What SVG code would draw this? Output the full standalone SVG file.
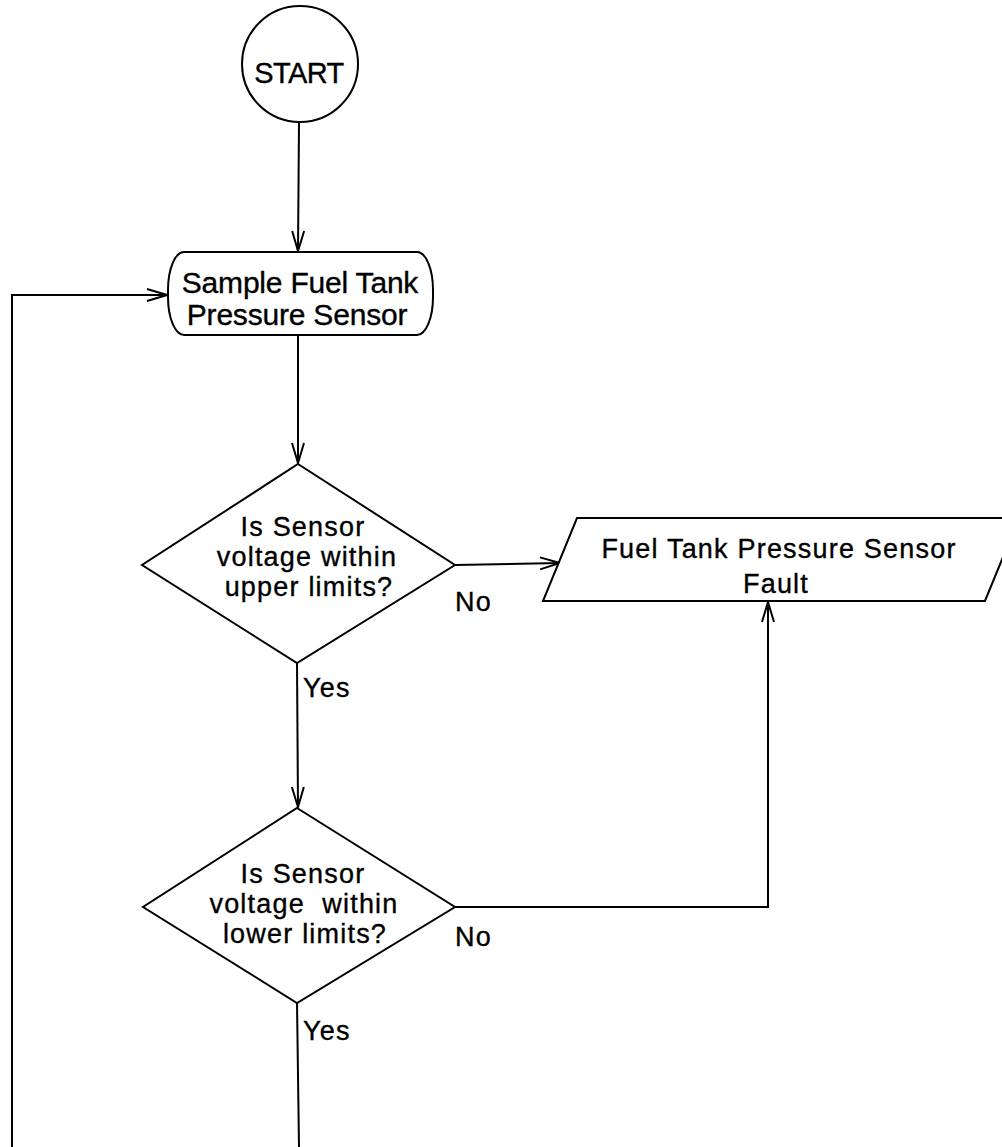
<svg xmlns="http://www.w3.org/2000/svg" width="1002" height="1147" viewBox="0 0 1002 1147">
<style>
.s{fill:#fff;stroke:#000;stroke-width:2}
.c{fill:none;stroke:#000;stroke-width:2}
text{font-family:"Liberation Sans",Arial,sans-serif;font-size:27px;letter-spacing:1.2px;fill:#000;stroke:#000;stroke-width:0.35px}
.m{text-anchor:middle}
.b{font-size:30px;letter-spacing:-0.2px}
</style>
<defs>
<marker id="a" markerUnits="userSpaceOnUse" markerWidth="24" markerHeight="18" refX="21" refY="8" orient="auto">
<path d="M1,2 L21,8 L1,14" fill="none" stroke="#000" stroke-width="2"/>
</marker>
</defs>
<g id="connectors">
<path class="c" d="M299,123 L298,251" marker-end="url(#a)"/>
<path class="c" d="M298,336 L298,463" marker-end="url(#a)"/>
<path class="c" d="M455,565 L560,563" marker-end="url(#a)"/>
<path class="c" d="M297,663 L298,807" marker-end="url(#a)"/>
<path class="c" d="M455,907 L768,907 L768,602" marker-end="url(#a)"/>
<path class="c" d="M297,1003 L299,1147"/>
<path class="c" d="M12,1147 L12,295 L167,295" marker-end="url(#a)"/>
</g>
<g id="start">
<circle class="s" cx="300" cy="64" r="58"/>
<text class="m" x="299" y="83" style="font-size:29px;letter-spacing:-0.6px">START</text>
</g>
<g id="sample">
<rect class="s" x="168" y="252" width="265" height="83" rx="16" ry="38"/>
<text class="m b" x="300" y="293">Sample Fuel Tank</text>
<text class="m b" x="297" y="325">Pressure Sensor</text>
</g>
<g id="upper">
<polygon class="s" points="298,464 455,565 297,663 142,565"/>
<text class="m" x="303" y="536">Is Sensor</text>
<text class="m" x="307" y="566">voltage within</text>
<text class="m" x="309" y="596">upper limits?</text>
<text x="455" y="611">No</text>
<text x="303" y="697">Yes</text>
</g>
<g id="fault">
<polygon class="s" points="577,518 1019,518 985,601 543,601"/>
<text class="m" x="779" y="558">Fuel Tank Pressure Sensor</text>
<text class="m" x="776" y="593">Fault</text>
</g>
<g id="lower">
<polygon class="s" points="297,808 455,907 297,1003 143,907"/>
<text class="m" x="303" y="883">Is Sensor</text>
<text class="m" x="304" y="913" style="white-space:pre">voltage  within</text>
<text class="m" x="305" y="943">lower limits?</text>
<text x="455" y="946">No</text>
<text x="303" y="1040">Yes</text>
</g>
</svg>
